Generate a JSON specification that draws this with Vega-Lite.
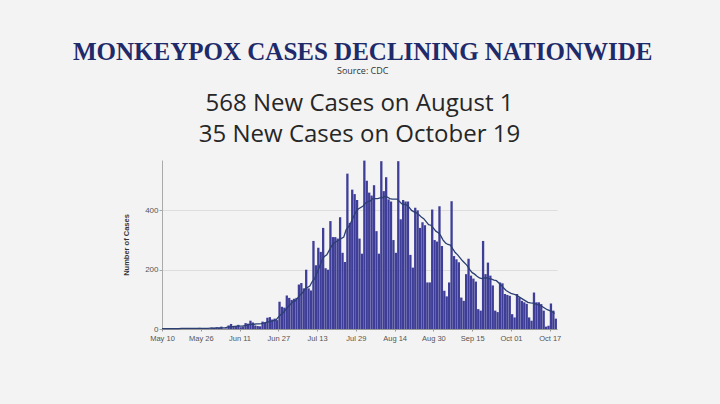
{
 "$schema": "https://vega.github.io/schema/vega-lite/v6.json",
 "background": "#f3f3f3",
 "padding": {"left": 72, "top": 40, "right": 150, "bottom": 62},
 "title": {"text": "MONKEYPOX CASES DECLINING NATIONWIDE", "subtitle": "Source: CDC", "anchor": "middle", "dx": 21, "font": "Liberation Serif", "fontSize": 25, "fontWeight": "bold", "color": "#1f2a6b", "subtitleFont": "Open Sans", "subtitleFontSize": 9, "subtitleColor": "#333333", "subtitlePadding": 2, "offset": 16},
 "config": {"view": {"stroke": null}, "concat": {"spacing": 0}},
 "vconcat": [{
  "width": 395, "height": 169,
  "title": {"text": ["568 New Cases on August 1", "35 New Cases on October 19"], "font": "Open Sans", "fontSize": 24, "fontWeight": "normal", "color": "#262626", "lineHeight": 31, "anchor": "middle", "offset": 13},
  "data": {"values": [
   {"date":"2022/05/10","cases":1,"avg":1},{"date":"2022/05/11","cases":0,"avg":1},{"date":"2022/05/12","cases":2,"avg":1},{"date":"2022/05/13","cases":1,"avg":1},{"date":"2022/05/14","cases":0,"avg":1},{"date":"2022/05/15","cases":0,"avg":1},{"date":"2022/05/16","cases":2,"avg":1},{"date":"2022/05/17","cases":3,"avg":1},{"date":"2022/05/18","cases":1,"avg":2},{"date":"2022/05/19","cases":2,"avg":2},{"date":"2022/05/20","cases":1,"avg":2},{"date":"2022/05/21","cases":0,"avg":2},{"date":"2022/05/22","cases":0,"avg":2},{"date":"2022/05/23","cases":3,"avg":2},{"date":"2022/05/24","cases":2,"avg":2},{"date":"2022/05/25","cases":4,"avg":2},{"date":"2022/05/26","cases":2,"avg":2},{"date":"2022/05/27","cases":3,"avg":2},{"date":"2022/05/28","cases":0,"avg":2},{"date":"2022/05/29","cases":1,"avg":2},{"date":"2022/05/30","cases":5,"avg":3},{"date":"2022/05/31","cases":4,"avg":3},
   {"date":"2022/06/01","cases":6,"avg":3},{"date":"2022/06/02","cases":4,"avg":4},{"date":"2022/06/03","cases":8,"avg":4},{"date":"2022/06/04","cases":1,"avg":4},{"date":"2022/06/05","cases":2,"avg":4},{"date":"2022/06/06","cases":12,"avg":6},{"date":"2022/06/07","cases":17,"avg":7},{"date":"2022/06/08","cases":8,"avg":8},{"date":"2022/06/09","cases":10,"avg":9},{"date":"2022/06/10","cases":14,"avg":10},{"date":"2022/06/11","cases":6,"avg":10},{"date":"2022/06/12","cases":8,"avg":10},{"date":"2022/06/13","cases":20,"avg":11},{"date":"2022/06/14","cases":18,"avg":13},{"date":"2022/06/15","cases":28,"avg":15},{"date":"2022/06/16","cases":22,"avg":16},{"date":"2022/06/17","cases":12,"avg":16},{"date":"2022/06/18","cases":10,"avg":17},{"date":"2022/06/19","cases":9,"avg":17},{"date":"2022/06/20","cases":25,"avg":18},{"date":"2022/06/21","cases":22,"avg":20},{"date":"2022/06/22","cases":38,"avg":22},{"date":"2022/06/23","cases":40,"avg":24},{"date":"2022/06/24","cases":32,"avg":26},{"date":"2022/06/25","cases":35,"avg":28},{"date":"2022/06/26","cases":30,"avg":30},{"date":"2022/06/27","cases":92,"avg":40},{"date":"2022/06/28","cases":75,"avg":48},{"date":"2022/06/29","cases":72,"avg":55},{"date":"2022/06/30","cases":113,"avg":65},
   {"date":"2022/07/01","cases":105,"avg":75},{"date":"2022/07/02","cases":98,"avg":83},{"date":"2022/07/03","cases":102,"avg":92},{"date":"2022/07/04","cases":105,"avg":95},{"date":"2022/07/05","cases":150,"avg":105},{"date":"2022/07/06","cases":155,"avg":115},{"date":"2022/07/07","cases":137,"avg":122},{"date":"2022/07/08","cases":200,"avg":135},{"date":"2022/07/09","cases":137,"avg":140},{"date":"2022/07/10","cases":130,"avg":145},{"date":"2022/07/11","cases":297,"avg":160},{"date":"2022/07/12","cases":215,"avg":170},{"date":"2022/07/13","cases":274,"avg":190},{"date":"2022/07/14","cases":260,"avg":210},{"date":"2022/07/15","cases":341,"avg":232},{"date":"2022/07/16","cases":205,"avg":245},{"date":"2022/07/17","cases":200,"avg":250},{"date":"2022/07/18","cases":364,"avg":265},{"date":"2022/07/19","cases":310,"avg":280},{"date":"2022/07/20","cases":310,"avg":290},{"date":"2022/07/21","cases":305,"avg":295},{"date":"2022/07/22","cases":377,"avg":300},{"date":"2022/07/23","cases":257,"avg":305},{"date":"2022/07/24","cases":226,"avg":310},{"date":"2022/07/25","cases":524,"avg":335},{"date":"2022/07/26","cases":358,"avg":345},{"date":"2022/07/27","cases":470,"avg":360},{"date":"2022/07/28","cases":455,"avg":378},{"date":"2022/07/29","cases":435,"avg":395},{"date":"2022/07/30","cases":305,"avg":405},{"date":"2022/07/31","cases":254,"avg":410},
   {"date":"2022/08/01","cases":568,"avg":415},{"date":"2022/08/02","cases":500,"avg":425},{"date":"2022/08/03","cases":460,"avg":430},{"date":"2022/08/04","cases":450,"avg":432},{"date":"2022/08/05","cases":485,"avg":440},{"date":"2022/08/06","cases":330,"avg":440},{"date":"2022/08/07","cases":254,"avg":440},{"date":"2022/08/08","cases":566,"avg":442},{"date":"2022/08/09","cases":465,"avg":443},{"date":"2022/08/10","cases":512,"avg":447},{"date":"2022/08/11","cases":437,"avg":445},{"date":"2022/08/12","cases":430,"avg":440},{"date":"2022/08/13","cases":300,"avg":438},{"date":"2022/08/14","cases":257,"avg":438},{"date":"2022/08/15","cases":566,"avg":438},{"date":"2022/08/16","cases":370,"avg":430},{"date":"2022/08/17","cases":435,"avg":422},{"date":"2022/08/18","cases":430,"avg":420},{"date":"2022/08/19","cases":430,"avg":418},{"date":"2022/08/20","cases":250,"avg":410},{"date":"2022/08/21","cases":207,"avg":400},{"date":"2022/08/22","cases":409,"avg":395},{"date":"2022/08/23","cases":400,"avg":392},{"date":"2022/08/24","cases":341,"avg":385},{"date":"2022/08/25","cases":360,"avg":378},{"date":"2022/08/26","cases":350,"avg":372},{"date":"2022/08/27","cases":157,"avg":362},{"date":"2022/08/28","cases":157,"avg":352},{"date":"2022/08/29","cases":403,"avg":350},{"date":"2022/08/30","cases":300,"avg":340},{"date":"2022/08/31","cases":295,"avg":330},
   {"date":"2022/09/01","cases":414,"avg":325},{"date":"2022/09/02","cases":280,"avg":315},{"date":"2022/09/03","cases":129,"avg":300},{"date":"2022/09/04","cases":110,"avg":290},{"date":"2022/09/05","cases":157,"avg":285},{"date":"2022/09/06","cases":431,"avg":283},{"date":"2022/09/07","cases":246,"avg":270},{"date":"2022/09/08","cases":235,"avg":258},{"date":"2022/09/09","cases":225,"avg":250},{"date":"2022/09/10","cases":106,"avg":240},{"date":"2022/09/11","cases":95,"avg":230},{"date":"2022/09/12","cases":185,"avg":222},{"date":"2022/09/13","cases":237,"avg":213},{"date":"2022/09/14","cases":180,"avg":200},{"date":"2022/09/15","cases":170,"avg":190},{"date":"2022/09/16","cases":160,"avg":185},{"date":"2022/09/17","cases":67,"avg":178},{"date":"2022/09/18","cases":62,"avg":172},{"date":"2022/09/19","cases":297,"avg":170},{"date":"2022/09/20","cases":185,"avg":172},{"date":"2022/09/21","cases":224,"avg":172},{"date":"2022/09/22","cases":180,"avg":170},{"date":"2022/09/23","cases":147,"avg":168},{"date":"2022/09/24","cases":62,"avg":165},{"date":"2022/09/25","cases":57,"avg":163},{"date":"2022/09/26","cases":157,"avg":155},{"date":"2022/09/27","cases":154,"avg":148},{"date":"2022/09/28","cases":118,"avg":138},{"date":"2022/09/29","cases":115,"avg":130},{"date":"2022/09/30","cases":112,"avg":125},
   {"date":"2022/10/01","cases":50,"avg":120},{"date":"2022/10/02","cases":39,"avg":118},{"date":"2022/10/03","cases":118,"avg":115},{"date":"2022/10/04","cases":106,"avg":110},{"date":"2022/10/05","cases":95,"avg":105},{"date":"2022/10/06","cases":90,"avg":100},{"date":"2022/10/07","cases":85,"avg":95},{"date":"2022/10/08","cases":39,"avg":90},{"date":"2022/10/09","cases":28,"avg":88},{"date":"2022/10/10","cases":123,"avg":87},{"date":"2022/10/11","cases":90,"avg":85},{"date":"2022/10/12","cases":90,"avg":82},{"date":"2022/10/13","cases":84,"avg":80},{"date":"2022/10/14","cases":62,"avg":75},{"date":"2022/10/15","cases":8,"avg":70},{"date":"2022/10/16","cases":11,"avg":65},{"date":"2022/10/17","cases":86,"avg":62},{"date":"2022/10/18","cases":62,"avg":58},{"date":"2022/10/19","cases":35,"avg":52}
  ]},
  "encoding": {
   "x": {"field": "date", "type": "temporal", "timeUnit": "yearmonthdate",
    "scale": {"domain": [{"year":2022,"month":5,"date":10},{"year":2022,"month":10,"date":20}], "nice": false},
    "axis": {"title": null, "format": "%b %d", "grid": false, "labelFlush": false,
     "values": [{"year":2022,"month":5,"date":10},{"year":2022,"month":5,"date":26},{"year":2022,"month":6,"date":11},{"year":2022,"month":6,"date":27},{"year":2022,"month":7,"date":13},{"year":2022,"month":7,"date":29},{"year":2022,"month":8,"date":14},{"year":2022,"month":8,"date":30},{"year":2022,"month":9,"date":15},{"year":2022,"month":10,"date":1},{"year":2022,"month":10,"date":17}],
     "labelFont": "Liberation Sans", "labelFontSize": 7.5, "labelColor": "#555555", "labelPadding": 3, "labelOverlap": false,
     "tickSize": 2, "tickColor": "#999999", "domainColor": "#999999"}}
  },
  "layer": [
   {"mark": {"type": "bar", "color": "#3e3d97", "width": 2.3},
    "encoding": {"y": {"field": "cases", "type": "quantitative",
     "scale": {"domain": [0, 570], "nice": false},
     "axis": {"values": [0, 200, 400], "title": "Number of Cases", "titleFont": "Liberation Sans", "titleFontSize": 7.5, "titleFontWeight": "bold", "titleColor": "#333333", "titlePadding": 14,
      "labelFont": "Liberation Sans", "labelFontSize": 8, "labelColor": "#555555", "labelPadding": 1, "tickSize": 3, "tickColor": "#aaaaaa", "domainColor": "#aaaaaa", "gridColor": "#dddddd"}}}},
   {"mark": {"type": "line", "color": "#2b3f73", "strokeWidth": 1.3},
    "encoding": {"y": {"field": "avg", "type": "quantitative"}}}
  ]
 }]
}
